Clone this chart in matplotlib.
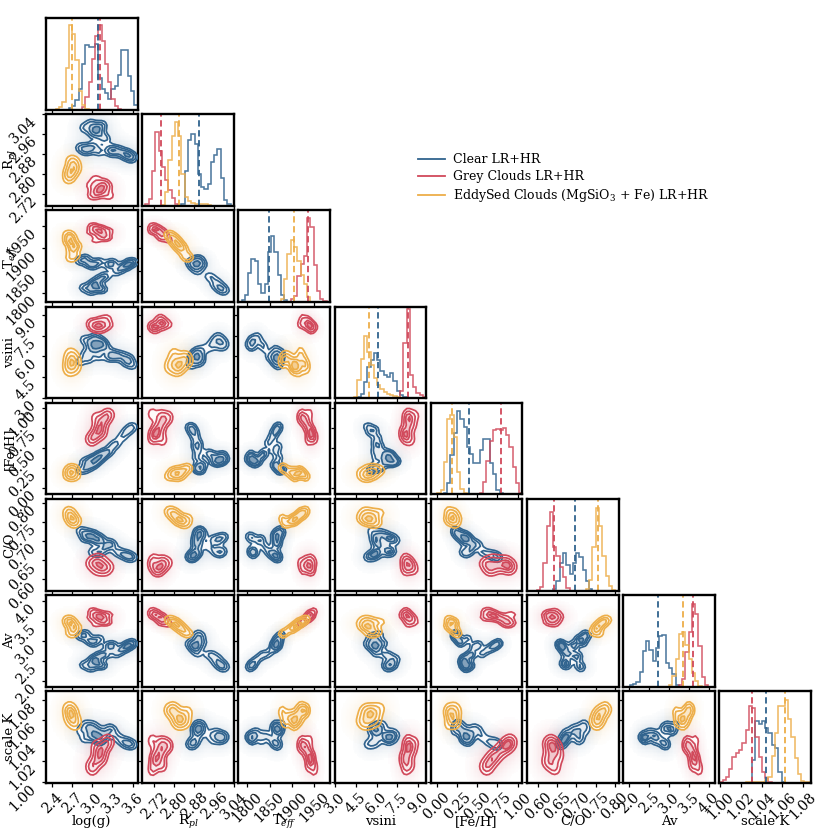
import numpy as np
import matplotlib
matplotlib.use('Agg')
import matplotlib.pyplot as plt
from matplotlib.colors import to_rgb
from matplotlib.lines import Line2D

plt.rcParams['font.family'] = 'DejaVu Serif'
plt.rcParams['mathtext.fontset'] = 'dejavuserif'

param_labels = ['log(g)', 'R$_{pl}$', 'T$_{eff}$', 'vsini', '[Fe/H]', 'C/O', 'Av', 'scale K']
param_limits = [(2.31, 3.675), (2.671, 3.04), (1780, 1985), (2.95, 9.6),
                (-0.075, 1.06), (0.571, 0.81), (1.85, 4.15), (0.999, 1.088)]
tick_labels = [['2.4', '2.7', '3.0', '3.3', '3.6'],
               ['2.72', '2.80', '2.88', '2.96', '3.04'],
               ['1800', '1850', '1900', '1950'],
               ['3.0', '4.5', '6.0', '7.5', '9.0'],
               ['0.00', '0.25', '0.50', '0.75', '1.00'],
               ['0.60', '0.65', '0.70', '0.75', '0.80'],
               ['2.0', '2.5', '3.0', '3.5', '4.0'],
               ['1.00', '1.02', '1.04', '1.06', '1.08']]

series_names = ['Clear LR+HR', 'Grey Clouds LR+HR', 'EddySed Clouds (MgSiO$_3$ + Fe) LR+HR']
series_colors = ['#30638e', '#d1495b', '#edae49']

# medians (dashed lines), one per parameter
clear_medians = [3.09, 2.90, 1849, 6.08, 0.40, 0.695, 2.73, 1.044]
grey_medians = [3.11, 2.747, 1936, 8.30, 0.80, 0.641, 3.60, 1.031]
eddy_medians = [2.70, 2.82, 1905, 5.48, 0.19, 0.757, 3.35, 1.063]

# 1D histograms, 28 bins over each axis range
clear_hists = [
    [0, 0, 0, 0, 0, 0, 0, .02, .04, .10, .22, .50, .71, .68, .68, .72, .35, .22, .18, .12, .22, .26, .38, .65, .65, .37, .20, .05],
    [0, 0, 0, 0, 0, 0, 0, 0, 0, 0, 0, 0, .02, .38, .72, .78, .68, .35, .20, .18, .24, .48, .55, .62, .30, .06, .02, 0],
    [0, .02, .08, .32, .47, .45, .20, .10, .20, .55, .72, .55, .30, .08, .02, 0, 0, 0, 0, 0, 0, 0, 0, 0, 0, 0, 0, 0],
    [0, 0, 0, 0, 0, 0, 0, .01, .05, .18, .34, .42, .49, .42, .30, .25, .23, .27, .19, .08, .03, .01, 0, 0, 0, 0, 0, 0],
    [0, 0, 0, 0, .02, .12, .43, .67, .91, .82, .74, .52, .44, .34, .34, .49, .60, .60, .34, .22, .05, .01, 0, 0, 0, 0, 0, 0],
    [0, 0, 0, 0, 0, 0, 0, 0, .02, .10, .30, .41, .28, .18, .30, .41, .37, .22, .10, .02, 0, 0, 0, 0, 0, 0, 0, 0],
    [0, 0, .02, .03, .05, .16, .39, .50, .40, .28, .42, .55, .56, .26, .20, .14, .02, 0, 0, 0, 0, 0, 0, 0, 0, 0, 0, 0],
    [0, 0, 0, 0, 0, 0, 0, 0, 0, 0, .25, .68, .64, .68, .60, .55, .42, .38, .12, .01, 0, 0, 0, 0, 0, 0, 0, 0],
]
grey_hists = [
    [0, 0, 0, 0, 0, 0, 0, 0, 0, 0, 0, .03, .14, .30, .55, .80, .92, .75, .50, .30, .12, .04, .01, 0, 0, 0, 0, 0],
    [0, .02, .07, .38, .81, .60, .42, .28, .17, .08, .02, 0, 0, 0, 0, 0, 0, 0, 0, 0, 0, 0, 0, 0, 0, 0, 0, 0],
    [0, 0, 0, 0, 0, 0, 0, 0, 0, 0, 0, 0, 0, 0, 0, 0, .03, .07, .28, .42, .50, .92, .82, .40, .12, .03, .01, 0],
    [0, 0, 0, 0, 0, 0, 0, 0, 0, 0, 0, 0, 0, 0, 0, 0, 0, 0, 0, 0, .08, .60, .97, .25, .12, .06, .03, .01],
    [0, 0, 0, 0, 0, 0, 0, 0, 0, 0, 0, 0, 0, 0, 0, .01, .14, .37, .58, .70, .71, .70, .72, .65, .52, .30, .12, .02],
    [0, 0, 0, .01, .04, .30, .70, .86, .48, .38, .26, .15, .03, 0, 0, 0, 0, 0, 0, 0, 0, 0, 0, 0, 0, 0, 0, 0],
    [0, 0, 0, 0, 0, 0, 0, 0, 0, 0, 0, 0, 0, 0, 0, 0, 0, .02, .08, .38, .60, .90, .80, .44, .11, .02, 0, 0],
    [.01, .03, .07, .15, .28, .33, .36, .44, .58, .84, .82, .50, .28, .12, .05, .01, 0, 0, 0, 0, 0, 0, 0, 0, 0, 0, 0, 0],
]
eddy_hists = [
    [0, 0, 0, .01, .03, .08, .45, .92, .83, .54, .20, .05, .01, 0, 0, 0, 0, 0, 0, 0, 0, 0, 0, 0, 0, 0, 0, 0],
    [0, 0, 0, 0, 0, 0, .01, .15, .50, .76, .92, .76, .35, .10, .05, .03, .015, .015, .015, .015, .01, 0, 0, 0, 0, 0, 0, 0],
    [0, 0, 0, 0, 0, 0, 0, 0, 0, 0, 0, 0, 0, .03, .25, .52, .68, .60, .45, .30, .20, .05, 0, 0, 0, 0, 0, 0],
    [0, 0, 0, 0, 0, 0, .01, .20, .43, .68, .50, .36, .22, .14, .10, .07, .05, .03, .02, .01, 0, 0, 0, 0, 0, 0, 0, 0],
    [0, 0, .01, .05, .35, .82, .87, .63, .25, .06, .01, 0, 0, 0, 0, 0, 0, 0, 0, 0, 0, 0, 0, 0, 0, 0, 0, 0],
    [0, 0, 0, 0, 0, 0, 0, 0, 0, 0, 0, 0, 0, 0, 0, 0, 0, 0, .02, .12, .48, .90, .70, .38, .16, .05, .01, 0],
    [0, 0, 0, 0, 0, 0, 0, 0, 0, 0, 0, 0, 0, 0, .02, .12, .30, .58, .60, .46, .30, .15, .06, .01, 0, 0, 0, 0],
    [0, 0, 0, 0, 0, 0, 0, 0, .01, .01, .01, .01, .01, .01, .03, .07, .30, .55, .84, .84, .91, .70, .50, .27, .10, .02, .01, .01],
]

# representative posterior samples
# columns: log(g), Rpl, Teff, vsini, [Fe/H], C/O, Av, scale K
clear_samples = [
    [3.36, 2.895, 1848, 5.95, .56, .672, 2.68, 1.044],
    [3.44, 2.885, 1856, 6.05, .63, .668, 2.78, 1.040],
    [3.50, 2.878, 1861, 5.55, .69, .663, 2.85, 1.038],
    [3.55, 2.872, 1866, 5.85, .73, .660, 2.90, 1.037],
    [3.60, 2.865, 1870, 5.35, .77, .657, 2.95, 1.036],
    [2.82, 2.905, 1872, 5.60, .22, .728, 3.12, 1.050],
    [2.90, 2.895, 1878, 6.20, .24, .722, 3.18, 1.056],
    [2.95, 2.900, 1865, 5.80, .27, .712, 3.02, 1.052],
    [3.02, 2.912, 1862, 6.50, .30, .718, 2.95, 1.055],
    [3.10, 2.890, 1870, 6.00, .38, .705, 3.05, 1.050],
    [3.25, 2.895, 1862, 5.90, .46, .695, 2.85, 1.052],
    [3.30, 2.890, 1868, 6.20, .52, .690, 2.90, 1.050],
    [2.88, 2.985, 1812, 7.20, .33, .708, 2.40, 1.042],
    [2.98, 3.002, 1804, 6.80, .36, .712, 2.32, 1.044],
    [3.05, 2.975, 1824, 7.40, .34, .700, 2.56, 1.046],
    [3.12, 2.955, 1832, 6.90, .40, .705, 2.64, 1.040],
    [3.00, 2.965, 1818, 7.10, .32, .672, 2.50, 1.048],
    [3.08, 2.985, 1812, 6.70, .37, .668, 2.42, 1.042],
    [3.15, 2.995, 1808, 7.00, .42, .675, 2.38, 1.044],
    [3.20, 2.940, 1838, 6.60, .44, .685, 2.66, 1.046],
]
grey_samples = [
    [3.00, 2.711, 1950, 8.10, .62, .645, 3.76, 1.012],
    [3.05, 2.728, 1946, 8.20, .65, .625, 3.70, 1.018],
    [3.08, 2.720, 1942, 8.00, .70, .655, 3.64, 1.024],
    [3.10, 2.745, 1939, 8.30, .74, .640, 3.61, 1.026],
    [3.12, 2.737, 1934, 8.60, .78, .630, 3.58, 1.030],
    [3.15, 2.754, 1930, 8.20, .82, .650, 3.54, 1.032],
    [3.18, 2.762, 1926, 8.40, .86, .635, 3.49, 1.036],
    [3.22, 2.745, 1923, 8.80, .90, .625, 3.46, 1.038],
    [3.05, 2.779, 1918, 8.30, .88, .645, 3.42, 1.035],
    [3.15, 2.728, 1942, 8.00, .68, .625, 3.64, 1.022],
    [2.98, 2.754, 1936, 8.50, .60, .640, 3.58, 1.016],
    [3.25, 2.711, 1939, 8.25, .92, .635, 3.67, 1.040],
]
eddy_samples = [
    [2.64, 2.778, 1932, 5.20, .14, .780, 3.56, 1.070],
    [2.68, 2.792, 1926, 5.60, .17, .770, 3.49, 1.068],
    [2.66, 2.806, 1916, 5.00, .20, .765, 3.45, 1.060],
    [2.70, 2.813, 1910, 5.50, .16, .760, 3.39, 1.066],
    [2.72, 2.827, 1902, 5.30, .22, .755, 3.32, 1.060],
    [2.70, 2.834, 1894, 5.80, .19, .750, 3.28, 1.064],
    [2.74, 2.848, 1884, 5.90, .24, .745, 3.21, 1.058],
    [2.68, 2.855, 1878, 5.60, .26, .760, 3.17, 1.068],
    [2.76, 2.820, 1905, 5.20, .14, .755, 3.36, 1.056],
    [2.66, 2.799, 1919, 6.20, .22, .775, 3.48, 1.072],
]

clear_bw = [.058, .015, 6.5, .27, .037, .009, .075, .0036]
grey_bw = [.06, .013, 5.5, .23, .055, .011, .065, .0048]
eddy_bw = [.058, .016, 6.5, .36, .04, .009, .07, .0045]

all_medians = [clear_medians, grey_medians, eddy_medians]
all_hists = [clear_hists, grey_hists, eddy_hists]
all_samples = [np.array(clear_samples), np.array(grey_samples), np.array(eddy_samples)]
all_bw = [clear_bw, grey_bw, eddy_bw]
sigma_levels = [2, 1.5, 1, .5]
n_par = len(param_labels)


def density(samples, bw, i, j, bins, widen=1.0):
    # kernel density of the samples on a grid, j along x and i along y
    x = np.linspace(*param_limits[j], bins)
    y = np.linspace(*param_limits[i], bins)
    X, Y = np.meshgrid(x, y)
    Z = np.zeros_like(X)
    for s in samples:
        Z += np.exp(-.5 * ((X - s[j]) / (bw[j] * widen)) ** 2 - .5 * ((Y - s[i]) / (bw[i] * widen)) ** 2)
    return x, y, Z


def mix_white(color, amount):
    rgb = np.array(to_rgb(color))
    return tuple(1 - amount * (1 - rgb))


def draw_pair(ax, samples, bw, color, i, j):
    # faint cloud of points
    x, y, Z = density(samples, bw, i, j, 70, widen=1.9)
    rgba = np.zeros(Z.shape + (4,))
    rgba[..., :3] = to_rgb(color)
    rgba[..., 3] = .22 * (Z / Z.max()) ** .7
    rgba[..., 3][rgba[..., 3] < .012] = 0
    ax.pcolormesh(x, y, rgba, shading='nearest', rasterized=True, zorder=1)

    # contours, coarse grid as in a binned corner plot
    x, y, Z = density(samples, bw, i, j, 34)
    flat = np.sort(Z.ravel())[::-1]
    cum = np.cumsum(flat) / flat.sum()
    levels = [flat[np.searchsorted(cum, 1 - np.exp(-.5 * s ** 2))] for s in sigma_levels]
    fills = [mix_white(color, a) for a in (.03, .12, .3, .6)]
    ax.contourf(x, y, Z, levels=levels + [Z.max() * 1.01], colors=fills, zorder=2)
    ax.contour(x, y, Z, levels=levels, colors=[color], linewidths=1.25, zorder=3)


fig, axes = plt.subplots(n_par, n_par, figsize=(8.3, 8.3), dpi=100)
fig.subplots_adjust(left=46 / 830, right=811 / 830, top=1 - 18 / 830, bottom=1 - 783 / 830,
                    wspace=.05, hspace=.05)

for i in range(n_par):
    for j in range(n_par):
        ax = axes[i, j]
        if j > i:
            ax.axis('off')
            continue
        xticks = [float(t) for t in tick_labels[j]]
        ax.set_xlim(param_limits[j])
        ax.set_xticks(xticks)
        if i == j:
            ax.set_ylim(0, 1)
            ax.set_yticks([])
            edges = np.linspace(*param_limits[j], 29)
            for k in range(3):
                ax.stairs(all_hists[k][j], edges, color=series_colors[k], lw=1.15, alpha=.85)
                ax.axvline(all_medians[k][j], color=series_colors[k], ls='--', lw=1.3, dashes=(3.5, 2))
        else:
            ax.set_ylim(param_limits[i])
            ax.set_yticks([float(t) for t in tick_labels[i]])
            for k in range(3):
                draw_pair(ax, all_samples[k], all_bw[k], series_colors[k], i, j)
        for spine in ax.spines.values():
            spine.set_linewidth(1.7)
        ax.tick_params(length=3, width=.9, labelsize=10.2, pad=2)
        if i == n_par - 1:
            ax.set_xticklabels(tick_labels[j], rotation=45, ha='center')
            ax.set_xlabel(param_labels[j], fontsize=9.5, va='baseline')
            ax.xaxis.set_label_coords(.5, -.459)
        else:
            ax.set_xticklabels([])
        if j == 0 and i > 0:
            ax.set_yticklabels(tick_labels[i], rotation=45, ha='right', va='top')
            ax.set_ylabel(param_labels[i], fontsize=9.5, va='baseline', rotation_mode='anchor')
            ax.yaxis.set_label_coords(-.355, .5)
        elif i != j:
            ax.set_yticklabels([])

handles = [Line2D([], [], color=c, lw=1.3) for c in series_colors]
fig.legend(handles, series_names, loc='upper left', bbox_to_anchor=(407 / 830, 1 - 142 / 830),
           frameon=False, fontsize=9, handlelength=2.1, handletextpad=.7, labelspacing=.33)

fig.savefig('out.png', dpi=100)
